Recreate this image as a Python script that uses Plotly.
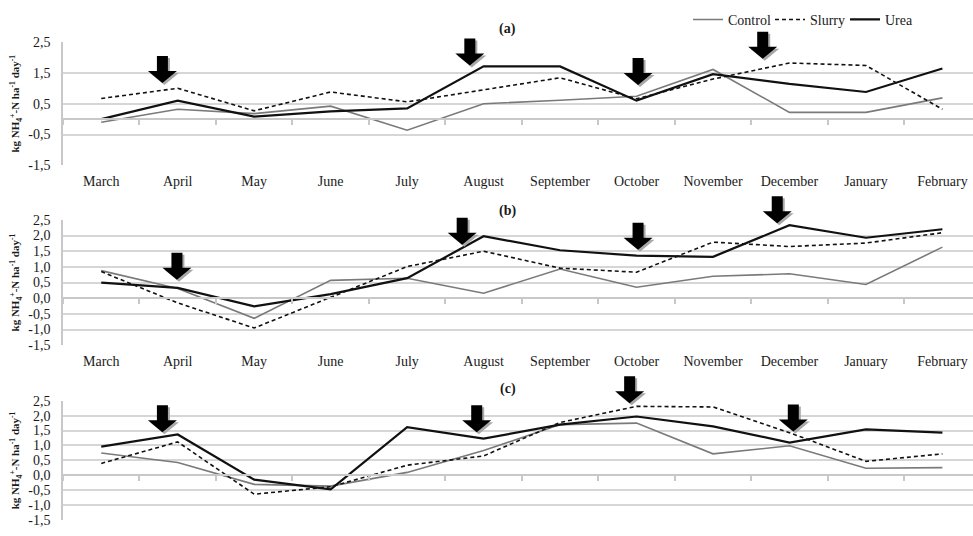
import plotly.graph_objects as go

W, H = 973, 536

months = ["March", "April", "May", "June", "July", "August", "September",
          "October", "November", "December", "January", "February"]

# Daily NH4+-N fluxes, kg ha-1 day-1
control_a = [-0.10, 0.32, 0.18, 0.42, -0.36, 0.50, 0.61, 0.74, 1.61, 0.22, 0.22, 0.69]
slurry_a = [0.67, 1.00, 0.27, 0.88, 0.56, 0.95, 1.34, 0.66, 1.30, 1.82, 1.74, 0.32]
urea_a = [0.00, 0.60, 0.08, 0.25, 0.35, 1.71, 1.71, 0.60, 1.46, 1.14, 0.88, 1.64]

control_b = [0.88, 0.31, -0.64, 0.57, 0.64, 0.16, 0.93, 0.35, 0.70, 0.78, 0.44, 1.63]
slurry_b = [0.85, -0.15, -0.95, 0.03, 1.01, 1.50, 0.96, 0.83, 1.79, 1.65, 1.76, 2.09]
urea_b = [0.50, 0.33, -0.26, 0.13, 0.64, 1.98, 1.53, 1.36, 1.32, 2.33, 1.93, 2.20]

control_c = [0.75, 0.43, -0.30, -0.36, 0.10, 0.83, 1.70, 1.75, 0.72, 0.99, 0.24, 0.26]
slurry_c = [0.40, 1.12, -0.63, -0.38, 0.34, 0.65, 1.77, 2.31, 2.29, 1.43, 0.47, 0.72]
urea_c = [0.96, 1.37, -0.14, -0.47, 1.61, 1.23, 1.70, 1.97, 1.64, 1.10, 1.54, 1.43]

# Fertiliser application dates (arrow tips: month position, flux level)
arrows_x_a = [0.80, 4.82, 7.02, 8.65]
arrows_y_a = [1.17, 1.74, 1.11, 1.96]
arrows_x_b = [0.99, 4.72, 7.02, 8.84]
arrows_y_b = [0.59, 1.71, 1.55, 2.39]
arrows_x_c = [0.80, 4.91, 6.91, 9.05]
arrows_y_c = [1.44, 1.44, 2.41, 1.47]

tick_a = [-1.5, -0.5, 0.5, 1.5, 2.5]
tick_bc = [-1.5, -1.0, -0.5, 0.0, 0.5, 1.0, 1.5, 2.0, 2.5]

FONT = "Liberation Serif"
TXT = "#1a1a1a"
GRID = "#d6d6d6"
YMIN, YMAX = -1.5, 2.5

ytitle = "<b>kg NH<sub>4</sub><sup>+</sup>-N ha<sup>-1</sup> day<sup>-1</sup></b>"

# panel plot-area extents in pixels (top, bottom)
panels = [
    dict(top=36, bottom=163, ctrl=control_a, slur=slurry_a, urea=urea_a,
         ticks=tick_a, ax=arrows_x_a, ay=arrows_y_a, label="(a)", ly=23, xlabels=True),
    dict(top=219, bottom=348, ctrl=control_b, slur=slurry_b, urea=urea_b,
         ticks=tick_bc, ax=arrows_x_b, ay=arrows_y_b, label="(b)", ly=210, xlabels=True),
    dict(top=405, bottom=528, ctrl=control_c, slur=slurry_c, urea=urea_c,
         ticks=tick_bc, ax=arrows_x_c, ay=arrows_y_c, label="(c)", ly=393, xlabels=False),
]

x_left = 63 / W
x_range = [-0.5, 11.4]
xpos = list(range(len(months)))


def x_to_paper(v):
    return x_left + (v - x_range[0]) / (x_range[1] - x_range[0]) * (1 - x_left)


def y_to_paper(v, d0, d1):
    return d0 + (v - YMIN) / (YMAX - YMIN) * (d1 - d0)


# one legend box per series, laid out in a row above panel (a)
legend_ids = {"Control": "legend", "Slurry": "legend2", "Urea": "legend3"}
legend_left = {"legend": 688, "legend2": 770, "legend3": 845}

fig = go.Figure()
layout = dict(
    width=W, height=H, margin=dict(l=0, r=0, t=0, b=0),
    paper_bgcolor="white", plot_bgcolor="white",
    font=dict(family=FONT, color=TXT, size=14),
    showlegend=True,
    shapes=[], annotations=[],
)
for lid, px in legend_left.items():
    layout[lid] = dict(orientation="h", x=px / W, xanchor="left", y=1.006, yanchor="top",
                       font=dict(family=FONT, size=14, color=TXT), itemwidth=30,
                       bgcolor="rgba(0,0,0,0)")

for i, p in enumerate(panels):
    n = i + 1
    xa = "x" if n == 1 else f"x{n}"
    ya = "y" if n == 1 else f"y{n}"
    d0 = 1 - p["bottom"] / H
    d1 = 1 - p["top"] / H

    series = [("Control", p["ctrl"], dict(color="#7a7a7a", width=1.6)),
              ("Slurry", p["slur"], dict(color="#111111", width=1.6, dash="4px,3px")),
              ("Urea", p["urea"], dict(color="#111111", width=2.2))]
    for name, vals, line in series:
        fig.add_trace(go.Scatter(x=xpos, y=vals, mode="lines", name=name, line=line,
                                 xaxis=xa, yaxis=ya, showlegend=(n == 1),
                                 legend=legend_ids[name], legendgroup=name))

    layout["xaxis" if n == 1 else f"xaxis{n}"] = dict(
        domain=[x_left, 1], anchor=ya, range=x_range,
        tickvals=xpos, ticktext=months if p["xlabels"] else [""] * len(months),
        showgrid=False, zeroline=False, showline=False, ticks="",
        ticklabelstandoff=6, tickfont=dict(family=FONT, size=14, color=TXT),
    )
    layout["yaxis" if n == 1 else f"yaxis{n}"] = dict(
        domain=[d0, d1], anchor=xa, range=[YMIN, YMAX],
        tickvals=p["ticks"], ticktext=[f"{t:.1f}".replace(".", ",") for t in p["ticks"]],
        showgrid=True, gridcolor=GRID, gridwidth=1.5, zeroline=False,
        showline=True, linecolor="#c8c8c8", linewidth=1.5, ticks="",
        ticklabelstandoff=8, tickfont=dict(family=FONT, size=14, color=TXT),
        title=dict(text=ytitle, standoff=6, font=dict(family=FONT, size=11, color=TXT)),
    )

    # category axis crossing at zero, with tick marks between months
    zn = n + 3
    zpos = y_to_paper(0, d0, d1)
    fig.add_trace(go.Scatter(x=[None], y=[None], xaxis=f"x{zn}", yaxis=ya,
                             showlegend=False, hoverinfo="skip"))
    layout[f"xaxis{zn}"] = dict(
        overlaying=xa, anchor="free", position=zpos, domain=[x_left, 1], range=x_range,
        tickvals=[k - 0.5 for k in range(len(months) + 1)], ticktext=[""] * 13,
        ticks="outside", ticklen=5, tickcolor="#c8c8c8", tickwidth=1.5,
        showline=True, linecolor="#c8c8c8", linewidth=1.5, showgrid=False, zeroline=False,
    )

    layout["annotations"].append(dict(
        text=f"<b>{p['label']}</b>", x=0.522, y=1 - p["ly"] / H, xref="paper", yref="paper",
        xanchor="center", yanchor="middle", showarrow=False,
        font=dict(family=FONT, size=14, color=TXT)))

    # block arrows marking fertiliser applications (shadow first)
    arrow = "M 0 0 L -14.5 12 L -5.5 12 L -5.5 27 L 5.5 27 L 5.5 12 L 14.5 12 Z"
    shadow = "M 2 -2 L -12.5 10 L -3.5 10 L -3.5 25 L 7.5 25 L 7.5 10 L 16.5 10 Z"
    for axv, ayv in zip(p["ax"], p["ay"]):
        for path, col in ((shadow, "#a8a8a8"), (arrow, "#000000")):
            layout["shapes"].append(dict(
                type="path", path=path, xref="paper", yref="paper",
                xsizemode="pixel", ysizemode="pixel",
                xanchor=x_to_paper(axv), yanchor=y_to_paper(ayv, d0, d1),
                fillcolor=col, line=dict(width=0), layer="above"))

fig.update_layout(**layout)
fig.write_html("out.html")
